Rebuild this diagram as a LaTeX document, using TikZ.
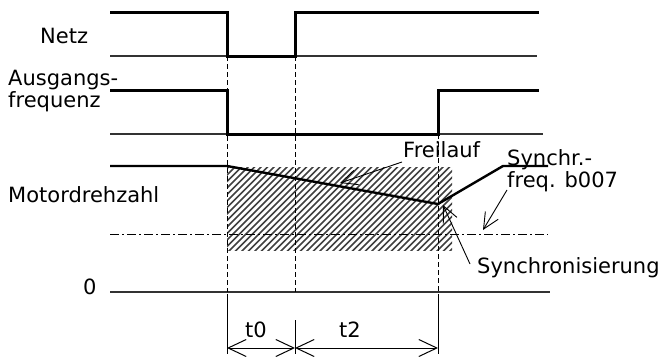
\documentclass[tikz,border=0pt]{standalone}
\usepackage{fontspec}
\setmainfont{DejaVu Sans}
\usetikzlibrary{arrows.meta}
\begin{document}
\begin{tikzpicture}[x=1pt,y=-1pt,
  lbl/.style={anchor=base west,inner sep=0pt,font=\fontsize{21}{22}\selectfont,align=left},
  sig/.style={line width=3pt,line join=miter},
  base/.style={line width=1.3pt,black!80},
  guide/.style={line width=1pt,dashed,dash pattern=on 5pt off 3pt},
  dimline/.style={line width=1pt},
  dimarrow/.style={line width=1pt,{Straight Barb[length=18pt,width=17pt]}-{Straight Barb[length=18pt,width=17pt]}},
  leader/.style={line width=0.9pt,-{Straight Barb[length=16pt,width=15pt]}},
  dashdot/.style={line width=1pt,dash pattern=on 9pt off 3pt on 2pt off 3pt},
  hatchline/.style={line width=1.7pt,black!75}]
\useasboundingbox (0,0) rectangle (663,356);
% hatched area
\begin{scope}
\clip (227,167) rectangle (452,250);
\foreach \k in {0,...,52}{
  \draw[hatchline] ({120+6.5*\k},256) -- ({120+6.5*\k+96},160);
}
\end{scope}
% coordinates
\coordinate (n0) at (110,12); \coordinate (n1) at (227,12); \coordinate (n2) at (227,56);
\coordinate (n3) at (295,56); \coordinate (n4) at (295,12); \coordinate (n5) at (539,12);
\coordinate (a0) at (110,90); \coordinate (a1) at (227,90); \coordinate (a2) at (227,134);
\coordinate (a3) at (438,134); \coordinate (a4) at (438,90); \coordinate (a5) at (539,90);
\coordinate (m0) at (110,166); \coordinate (m1) at (227,166); \coordinate (m2) at (438,204);
\coordinate (m3) at (503,166); \coordinate (m4) at (548,166);
\coordinate (nb0) at (110,56); \coordinate (nb1) at (537,56);
\coordinate (ab0) at (110,134); \coordinate (ab1) at (543,134);
\coordinate (dd0) at (110,234); \coordinate (dd1) at (548,234);
\coordinate (z0) at (110,292); \coordinate (z1) at (550,292);
\coordinate (g1t) at (227,56); \coordinate (g1b) at (227,292);
\coordinate (g2t) at (295,56); \coordinate (g2b) at (295,292);
\coordinate (g3t) at (438,134); \coordinate (g3b) at (438,292);
\coordinate (d1t) at (227,294); \coordinate (d1b) at (227,354);
\coordinate (d2t) at (295,320); \coordinate (d2b) at (295,354);
\coordinate (d3t) at (438,294); \coordinate (d3b) at (438,354);
\coordinate (r1) at (227,348); \coordinate (r2) at (295,348); \coordinate (r3) at (438,348);
% baselines
\draw[base] (nb0) -- (nb1);
\draw[base] (ab0) -- (ab1);
\draw[base] (z0) -- (z1);
\draw[dashdot] (dd0) -- (dd1);
% guides
\draw[guide] (g1t) -- (g1b);
\draw[guide] (g2t) -- (g2b);
\draw[guide] (g3t) -- (g3b);
% signals
\draw[sig] (n0) -- (n1) -- (n2) -- (n3) -- (n4) -- (n5);
\draw[sig] (a0) -- (a1) -- (a2) -- (a3) -- (a4) -- (a5);
\draw[sig,line width=2.4pt] (m0) -- (m1) -- (m2) -- (m3) -- (m4);
% dimensions
\draw[dimline] (d1t) -- (d1b);
\draw[dimline] (d2t) -- (d2b);
\draw[dimline] (d3t) -- (d3b);
\draw[dimarrow] (r1) -- (r2);
\draw[dimarrow] (r2) -- (r3);
% labels
\node[lbl] (netz) at (40,43) {Netz};
\node[lbl] (ausg) at (8,107) {Ausgangs-\\frequenz};
\node[lbl] (motor) at (8,202) {Motordrehzahl};
\node[lbl] (null) at (83,294) {0};
\node[lbl] (frei) at (403,157) {Freilauf};
\node[lbl] (synf) at (507,187) {Synchr.-\\freq. b007};
\node[lbl] (sync) at (477,273) {Synchronisierung};
\node[lbl] (tnull) at (245,337) {t0};
\node[lbl] (tzwei) at (339,337) {t2};
% leaders
\coordinate (f0) at (402,162); \coordinate (f1) at (340,183);
\coordinate (s0) at (507,190); \coordinate (s1) at (483,230);
\coordinate (y0) at (470,264); \coordinate (y1) at (443,205);
\draw[leader] (f0) -- (f1);
\draw[leader] (s0) -- (s1);
\draw[leader] (y0) -- (y1);
\end{tikzpicture}
\end{document}
